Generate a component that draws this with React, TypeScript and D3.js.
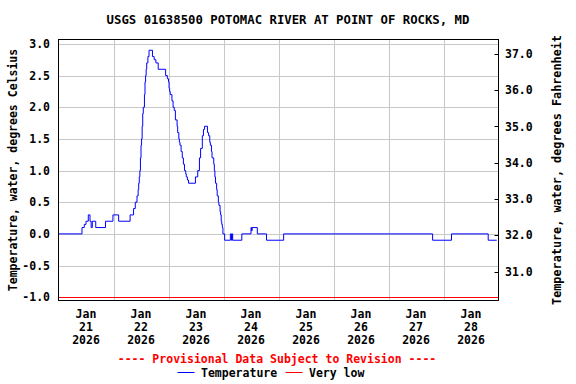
import React from "react";
import * as d3 from "d3";

const title = "USGS 01638500 POTOMAC RIVER AT POINT OF ROCKS, MD";
const leftAxisLabel = "Temperature, water, degrees Celsius";
const rightAxisLabel = "Temperature, water, degrees Fahrenheit";
const provisionalText = "---- Provisional Data Subject to Revision ----";
const legendTemp = "Temperature";
const legendLow = "Very low";

const leftTicks = [-1.0, -0.5, 0.0, 0.5, 1.0, 1.5, 2.0, 2.5, 3.0];
const rightTicks = [31, 32, 33, 34, 35, 36, 37];
const dayTicks = ["2026-01-21", "2026-01-22", "2026-01-23", "2026-01-24", "2026-01-25", "2026-01-26", "2026-01-27", "2026-01-28"];
const veryLowC = -1.0;

const times = [
  "2026-01-21 00:00", "2026-01-21 10:15", "2026-01-21 11:15", "2026-01-21 12:00", "2026-01-21 13:00",
  "2026-01-21 13:45", "2026-01-21 14:15", "2026-01-21 14:45", "2026-01-21 16:15", "2026-01-21 20:30",
  "2026-01-21 23:45",
  "2026-01-22 02:15", "2026-01-22 07:15", "2026-01-22 08:45", "2026-01-22 09:30", "2026-01-22 10:15",
  "2026-01-22 10:45", "2026-01-22 11:00", "2026-01-22 11:15", "2026-01-22 11:30", "2026-01-22 11:45",
  "2026-01-22 12:00", "2026-01-22 12:15", "2026-01-22 12:30", "2026-01-22 12:45", "2026-01-22 13:00",
  "2026-01-22 13:30", "2026-01-22 13:45", "2026-01-22 14:00", "2026-01-22 14:15", "2026-01-22 14:30",
  "2026-01-22 15:00", "2026-01-22 15:30", "2026-01-22 17:00", "2026-01-22 17:45", "2026-01-22 18:30",
  "2026-01-22 19:30", "2026-01-22 22:45", "2026-01-22 23:30",
  "2026-01-23 00:00", "2026-01-23 00:15", "2026-01-23 00:30", "2026-01-23 00:45", "2026-01-23 01:30",
  "2026-01-23 02:00", "2026-01-23 02:30", "2026-01-23 03:00", "2026-01-23 03:45", "2026-01-23 04:00",
  "2026-01-23 04:30", "2026-01-23 04:45", "2026-01-23 05:00", "2026-01-23 05:30", "2026-01-23 06:00",
  "2026-01-23 06:30", "2026-01-23 07:00", "2026-01-23 07:30", "2026-01-23 07:45", "2026-01-23 08:15",
  "2026-01-23 08:45", "2026-01-23 11:45", "2026-01-23 12:45", "2026-01-23 13:30", "2026-01-23 14:00",
  "2026-01-23 14:45", "2026-01-23 15:15", "2026-01-23 15:45", "2026-01-23 17:00", "2026-01-23 17:30",
  "2026-01-23 18:00", "2026-01-23 18:15", "2026-01-23 18:45", "2026-01-23 19:00", "2026-01-23 19:45",
  "2026-01-23 20:00", "2026-01-23 20:15", "2026-01-23 20:30", "2026-01-23 21:00", "2026-01-23 21:15",
  "2026-01-23 21:45", "2026-01-23 22:00", "2026-01-23 22:30", "2026-01-23 22:45", "2026-01-23 23:00",
  "2026-01-23 23:15", "2026-01-23 23:30", "2026-01-23 23:45",
  "2026-01-24 00:30", "2026-01-24 03:00", "2026-01-24 03:30", "2026-01-24 03:45", "2026-01-24 04:00",
  "2026-01-24 08:00", "2026-01-24 12:00", "2026-01-24 12:15", "2026-01-24 12:30", "2026-01-24 14:45",
  "2026-01-24 18:45",
  "2026-01-25 02:15",
  "2026-01-27 19:15",
  "2026-01-28 03:30", "2026-01-28 19:30", "2026-01-28 23:15",
];

const tempC = [
  0.0, 0.1, 0.15, 0.2, 0.3,
  0.2, 0.1, 0.2, 0.1, 0.2,
  0.3,
  0.2, 0.3, 0.4, 0.5, 0.6,
  0.7, 0.8, 0.9, 1.0, 1.2,
  1.4, 1.5, 1.7, 1.9, 2.0,
  2.2, 2.4, 2.5, 2.6, 2.7,
  2.8, 2.9, 2.8, 2.75, 2.7,
  2.6, 2.5, 2.45,
  2.4, 2.3, 2.25, 2.2, 2.1,
  2.0, 1.95, 1.8, 1.7, 1.6,
  1.5, 1.45, 1.4, 1.3, 1.2,
  1.1, 1.0, 0.95, 0.9, 0.85,
  0.8, 0.9, 1.0, 1.2, 1.35,
  1.55, 1.65, 1.7, 1.6, 1.55,
  1.45, 1.4, 1.3, 1.2, 1.1,
  1.0, 0.9, 0.8, 0.7, 0.6,
  0.5, 0.45, 0.35, 0.3, 0.2,
  0.15, 0.1, 0.0,
  -0.1, 0.0, -0.1, 0.0, -0.1,
  0.0, 0.1, 0.05, 0.1, 0.0,
  -0.1,
  0.0,
  -0.1,
  0.0, -0.1, -0.1,
];

const FONT = "'DejaVu Sans Mono', 'Liberation Mono', monospace";

export default function App() {
  const W = 576, H = 384;
  const parse = d3.timeParse("%Y-%m-%d %H:%M");
  const parseDay = d3.timeParse("%Y-%m-%d");
  const start = parse("2026-01-21 00:00") as Date;
  const end = parse("2026-01-29 00:00") as Date;

  const left = 58.5, right = 498.5, top = 39.5, bottom = 300.5;

  const x = d3.scaleTime().domain([start, end]).range([left, right]);
  const y = d3.scaleLinear().domain([-1.052, 3.07]).range([bottom, top]);
  const yF = d3.scaleLinear().domain([30.2, 37.4]).range([bottom, top]);

  const data = times.map((t, i) => ({ t: parse(t) as Date, v: tempC[i] }));
  const line = d3.line<{ t: Date; v: number }>()
    .x(d => x(d.t))
    .y(d => y(d.v))
    .curve(d3.curveStepAfter);

  const gridDays = d3.timeDay.range(d3.timeDay.offset(start, 1), end);
  const labelDays = dayTicks.map(d => d3.timeHour.offset(parseDay(d) as Date, 12));
  const fmtMon = d3.timeFormat("%b");
  const fmtDay = d3.timeFormat("%-d");
  const fmtYr = d3.timeFormat("%Y");

  const gridColor = "#c8c8c8";
  const plotCenterY = (top + bottom) / 2;

  return (
    <svg width={W} height={H} style={{ position: "absolute", left: 0, top: 0, background: "#fff" }}
      fontFamily={FONT} fontWeight="bold">
      <rect x={0} y={0} width={W} height={H} fill="#fff" />
      <text x={288} y={24} textAnchor="middle" fontSize={12.3} fill="#000">{title}</text>

      {leftTicks.map(v => (
        <line key={"hg" + v} x1={left} x2={right} y1={Math.round(y(v)) + 0.5} y2={Math.round(y(v)) + 0.5}
          stroke={gridColor} strokeWidth={1} />
      ))}
      {gridDays.map(d => (
        <line key={"vg" + d.getTime()} x1={Math.round(x(d)) + 0.5} x2={Math.round(x(d)) + 0.5} y1={top} y2={bottom}
          stroke={gridColor} strokeWidth={1} />
      ))}

      <line x1={left} x2={right} y1={Math.round(y(veryLowC)) + 0.5} y2={Math.round(y(veryLowC)) + 0.5}
        stroke="#ff0000" strokeWidth={1} />

      <path d={line(data) || ""} fill="none" stroke="#0000ff" strokeWidth={1} />

      <rect x={left} y={top} width={right - left} height={bottom - top} fill="none" stroke="#000" strokeWidth={1} />

      {leftTicks.map(v => (
        <text key={"lt" + v} x={50} y={y(v) + 4} textAnchor="end" fontSize={11.5} fill="#000">{v.toFixed(1)}</text>
      ))}

      {rightTicks.map(v => (
        <g key={"rt" + v}>
          <line x1={right - 4} x2={right} y1={Math.round(yF(v)) + 0.5} y2={Math.round(yF(v)) + 0.5} stroke="#000" strokeWidth={1} />
          <text x={505} y={yF(v) + 4} textAnchor="start" fontSize={11.5} fill="#000">{v.toFixed(1)}</text>
        </g>
      ))}

      {labelDays.map(d => (
        <text key={"xd" + d.getTime()} x={x(d)} textAnchor="middle" fontSize={11.5} fill="#000">
          <tspan x={x(d)} y={318}>{fmtMon(d)}</tspan>
          <tspan x={x(d)} y={331}>{fmtDay(d)}</tspan>
          <tspan x={x(d)} y={344}>{fmtYr(d)}</tspan>
        </text>
      ))}

      <text transform={`translate(17,${plotCenterY}) rotate(-90)`} textAnchor="middle" fontSize={11.5} fill="#000">{leftAxisLabel}</text>
      <text transform={`translate(561,${plotCenterY}) rotate(-90)`} textAnchor="middle" fontSize={11.8} fill="#000">{rightAxisLabel}</text>

      <text x={277} y={363} textAnchor="middle" fontSize={11.5} fill="#ff0000">{provisionalText}</text>

      <line x1={177.5} x2={194.5} y1={372.5} y2={372.5} stroke="#0000ff" strokeWidth={1} />
      <text x={201} y={376.5} fontSize={11.5} fill="#000">{legendTemp}</text>
      <line x1={285.5} x2={302.5} y1={372.5} y2={372.5} stroke="#ff0000" strokeWidth={1} />
      <text x={309} y={376.5} fontSize={11.5} fill="#000">{legendLow}</text>
    </svg>
  );
}
